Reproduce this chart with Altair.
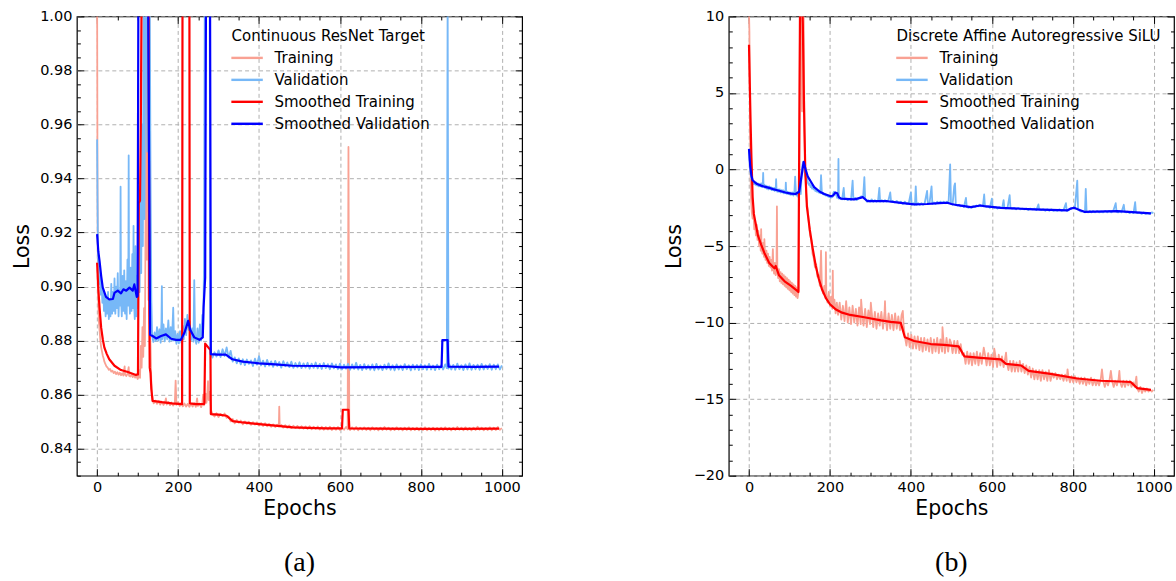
import altair as alt
import pandas as pd

SERIES = ["Training", "Validation", "Smoothed Training", "Smoothed Validation"]
COLORS = ["#f9a193", "#77b8f7", "#ff0000", "#0000ff"]
WIDTHS = [1.8, 1.8, 2.2, 2.2]

# ---------------- panel (a): Continuous ResNet Target ----------------
A_TRAIN = [
    (0, 1.01), (1, 0.935), (2, 0.905), (3, 0.893), (4, 0.888), (6, 0.884), (8, 0.880), (10, 0.8775),
    (12, 0.876), (14, 0.8745), (16, 0.8735), (18, 0.8722), (20, 0.8715), (23, 0.8705), (26, 0.8700),
    (29, 0.8692), (32, 0.8695), (35, 0.8685), (38, 0.8689), (41, 0.8680), (44, 0.8685), (47, 0.8676),
    (50, 0.8683), (53, 0.8674), (56, 0.8681), (59, 0.8672), (62, 0.8679), (65, 0.8671), (68, 0.8705),
    (69, 0.8675), (72, 0.8669), (75, 0.8676), (78, 0.8702), (79, 0.8670), (82, 0.8667), (85, 0.8675),
    (88, 0.8665), (91, 0.8673), (94, 0.8663), (97, 0.8671), (100, 0.8658), (102, 0.8664), (104, 0.8690),
    (106, 0.8662), (108, 0.8780), (110, 0.8700), (112, 0.8850), (114, 0.8740), (116, 0.8920), (118, 0.8780),
    (120, 0.9300), (121, 1.01), (123, 0.9100), (125, 1.01), (127, 0.8950), (129, 1.01), (130, 0.8850),
    (132, 0.8780), (134, 0.8640), (136, 0.8600), (138, 0.8575),
    (140, 0.8568), (144, 0.8578), (148, 0.8566), (152, 0.8576), (156, 0.8563), (160, 0.8574), (164, 0.8562),
    (168, 0.8572), (170, 0.8586), (172, 0.8563), (176, 0.8573), (180, 0.8561), (184, 0.8571), (188, 0.8560),
    (192, 0.8570), (194, 0.8652), (196, 0.8562), (200, 0.8572), (204, 0.8558), (208, 0.8569), (212, 0.8557),
    (216, 0.8567), (220, 0.8556), (224, 0.8566), (228, 0.8555), (232, 0.8566), (236, 0.8556), (240, 0.8568),
    (244, 0.8555), (247, 0.8586), (249, 0.8558), (253, 0.8567), (257, 0.8554), (260, 0.8566), (262, 0.8600),
    (264, 0.8560), (266, 0.8578), (268, 0.8604), (270, 0.8570), (272, 0.8590), (274, 0.8650), (276, 0.8580),
    (278, 0.8610), (280, 0.8575), (282, 0.8540),
    (285, 0.8528), (290, 0.8519), (295, 0.8531), (300, 0.8517), (305, 0.8529), (310, 0.8521), (315, 0.8530),
    (320, 0.8514), (325, 0.8519), (330, 0.8501), (335, 0.8510), (340, 0.8494), (345, 0.8506), (350, 0.8496),
    (355, 0.8504), (360, 0.8490), (365, 0.8501), (370, 0.8492), (375, 0.8500), (380, 0.8488), (385, 0.8498),
    (390, 0.8489), (395, 0.8497), (400, 0.8486), (405, 0.8495), (410, 0.8484), (415, 0.8494), (420, 0.8483),
    (425, 0.8492), (430, 0.8481), (435, 0.8490), (440, 0.8480), (445, 0.8489), (449, 0.8482), (450, 0.8556),
    (451, 0.8484), (455, 0.8488), (460, 0.8478), (465, 0.8487), (470, 0.8477), (475, 0.8486), (480, 0.8476),
    (485, 0.8485), (490, 0.8476), (495, 0.8484), (500, 0.8475), (505, 0.8483), (510, 0.8474), (515, 0.8482),
    (520, 0.8473), (525, 0.8483), (530, 0.8472), (535, 0.8481), (540, 0.8473), (545, 0.8482), (550, 0.8471),
    (555, 0.8481), (560, 0.8470), (565, 0.8480), (570, 0.8471), (575, 0.8481), (580, 0.8469), (585, 0.8479),
    (590, 0.8470), (595, 0.8480), (600, 0.8469), (605, 0.8478), (610, 0.8470), (615, 0.8480), (619, 0.8472),
    (621, 0.9517), (623, 0.8474),
    (625, 0.8469), (630, 0.8479), (635, 0.8470), (640, 0.8480), (645, 0.8468), (650, 0.8478), (655, 0.8470),
    (660, 0.8479), (665, 0.8469), (670, 0.8478), (675, 0.8468), (680, 0.8479), (685, 0.8470), (690, 0.8477),
    (695, 0.8468), (700, 0.8478), (705, 0.8469), (710, 0.8480), (715, 0.8470), (720, 0.8478), (725, 0.8468),
    (730, 0.8477), (735, 0.8469), (740, 0.8479), (745, 0.8470), (750, 0.8477), (755, 0.8468), (760, 0.8478),
    (765, 0.8469), (770, 0.8479), (775, 0.8468), (780, 0.8477), (785, 0.8469), (790, 0.8478), (795, 0.8468),
    (800, 0.8477), (805, 0.8469), (810, 0.8479), (815, 0.8468), (820, 0.8477), (825, 0.8469), (830, 0.8478),
    (835, 0.8467), (840, 0.8477), (845, 0.8468), (850, 0.8478), (855, 0.8468), (860, 0.8479), (865, 0.8469),
    (870, 0.8477), (875, 0.8468), (880, 0.8478), (885, 0.8469), (890, 0.8480), (895, 0.8470), (900, 0.8478),
    (905, 0.8468), (910, 0.8479), (915, 0.8469), (920, 0.8477), (925, 0.8468), (930, 0.8478), (935, 0.8469),
    (940, 0.8481), (945, 0.8470), (950, 0.8478), (955, 0.8468), (960, 0.8477), (965, 0.8469), (970, 0.8479),
    (975, 0.8468), (980, 0.8478), (985, 0.8469), (990, 0.8480), (995, 0.8470), (1000, 0.8476),
]

A_VAL = [
    (0, 0.9545), (1, 0.932), (2, 0.916), (3, 0.906), (4, 0.910), (5, 0.901), (7, 0.904), (9, 0.897),
    (11, 0.902), (13, 0.894), (15, 0.899), (17, 0.891), (19, 0.897), (21, 0.889), (23, 0.896), (25, 0.890),
    (27, 0.898), (29, 0.888), (31, 0.895), (33, 0.889), (35, 0.901), (37, 0.890), (39, 0.898), (41, 0.891),
    (43, 0.903), (45, 0.890), (47, 0.900), (49, 0.892), (51, 0.905), (53, 0.889), (55, 0.899), (57, 0.893),
    (58, 0.937), (59, 0.896), (61, 0.889), (63, 0.904), (65, 0.891), (67, 0.906), (69, 0.890), (71, 0.902),
    (73, 0.888), (75, 0.910), (77, 0.893), (78, 0.9486), (79, 0.899), (81, 0.890), (83, 0.907), (85, 0.891),
    (87, 0.912), (89, 0.892), (90, 0.9225), (91, 0.895), (93, 0.888), (95, 0.915), (97, 0.889), (99, 0.904),
    (101, 0.892), (103, 0.920), (105, 0.898), (107, 0.935), (109, 0.905), (111, 0.960), (113, 0.915),
    (115, 1.01), (117, 0.925), (119, 1.01), (122, 1.01), (124, 0.950), (126, 1.01), (130, 1.01), (132, 0.940),
    (134, 0.895), (136, 0.8815),
    (139, 0.8795), (142, 0.8830), (145, 0.8798), (148, 0.8850), (151, 0.8800), (154, 0.8842), (157, 0.8792),
    (159, 0.8870), (160, 0.9002), (161, 0.8805), (164, 0.8860), (167, 0.8797), (170, 0.8845), (173, 0.8805),
    (176, 0.8875), (179, 0.8796), (182, 0.8850), (185, 0.8800), (188, 0.8922), (190, 0.8800), (193, 0.8835),
    (196, 0.8788), (199, 0.8825), (202, 0.8790), (205, 0.8835), (208, 0.8792), (211, 0.8855), (214, 0.8805),
    (217, 0.8880), (220, 0.8820), (223, 0.8895), (226, 0.8840), (229, 0.8870), (232, 0.8802), (235, 0.8845),
    (238, 0.8796), (240, 0.9024), (242, 0.8810), (245, 0.8788), (248, 0.8845), (251, 0.8792), (254, 0.8860),
    (257, 0.8800), (260, 0.8895), (262, 0.8830), (264, 0.9070), (266, 1.01), (278, 1.01),
    (280, 0.8758), (285, 0.8737), (290, 0.8757), (295, 0.8741), (300, 0.8764), (305, 0.8739), (310, 0.8768),
    (315, 0.8743), (320, 0.8775), (325, 0.8737), (330, 0.8762), (335, 0.8722), (340, 0.8738), (345, 0.8716),
    (350, 0.8734), (355, 0.8712), (360, 0.8731), (365, 0.8709), (370, 0.8730), (375, 0.8714), (380, 0.8727),
    (385, 0.8706), (390, 0.8733), (395, 0.8711), (400, 0.8742), (405, 0.8708), (410, 0.8726), (415, 0.8704),
    (420, 0.8729), (425, 0.8707), (430, 0.8723), (435, 0.8703), (440, 0.8725), (445, 0.8706), (450, 0.8721),
    (455, 0.8700), (460, 0.8724), (465, 0.8705), (470, 0.8719), (475, 0.8702), (480, 0.8722), (485, 0.8699),
    (490, 0.8717), (495, 0.8701), (500, 0.8720), (505, 0.8698), (510, 0.8716), (515, 0.8700), (520, 0.8718),
    (525, 0.8696), (530, 0.8715), (535, 0.8699), (540, 0.8719), (545, 0.8697), (550, 0.8714), (555, 0.8695),
    (560, 0.8717), (565, 0.8698), (570, 0.8713), (575, 0.8694), (580, 0.8716), (585, 0.8697), (590, 0.8712),
    (595, 0.8694), (600, 0.8715), (605, 0.8693), (610, 0.8711), (615, 0.8696), (620, 0.8714), (625, 0.8692),
    (630, 0.8712), (635, 0.8695), (640, 0.8718), (645, 0.8693), (650, 0.8710), (655, 0.8691), (660, 0.8713),
    (665, 0.8694), (670, 0.8709), (675, 0.8692), (680, 0.8712), (685, 0.8690), (690, 0.8714), (695, 0.8693),
    (700, 0.8708), (705, 0.8691), (710, 0.8711), (715, 0.8694), (720, 0.8716), (725, 0.8692), (730, 0.8709),
    (735, 0.8690), (740, 0.8712), (745, 0.8693), (750, 0.8708), (755, 0.8691), (760, 0.8713), (765, 0.8694),
    (770, 0.8709), (775, 0.8690), (780, 0.8711), (785, 0.8693), (790, 0.8710), (795, 0.8691), (800, 0.8712),
    (805, 0.8694), (810, 0.8709), (815, 0.8692), (820, 0.8714), (825, 0.8693), (830, 0.8708), (835, 0.8691),
    (840, 0.8711), (845, 0.8694), (850, 0.8709), (855, 0.8693), (860, 0.8712), (864, 0.8698), (866, 1.01),
    (868, 0.8696), (870, 0.8713), (875, 0.8693), (880, 0.8710), (885, 0.8692), (890, 0.8715), (895, 0.8694),
    (900, 0.8709), (905, 0.8691), (910, 0.8712), (915, 0.8693), (920, 0.8716), (925, 0.8692), (930, 0.8710),
    (935, 0.8694), (940, 0.8711), (945, 0.8692), (950, 0.8714), (955, 0.8693), (960, 0.8709), (965, 0.8695),
    (970, 0.8713), (975, 0.8692), (980, 0.8711), (985, 0.8694), (990, 0.8712), (995, 0.8693), (1000, 0.8708),
]

A_TRAIN_SMOOTH = [
    (0, 0.9088), (3, 0.899), (6, 0.8922), (10, 0.8848), (14, 0.8805), (18, 0.8774), (24, 0.8750),
    (30, 0.8731), (43, 0.8707), (59, 0.8691), (76, 0.8684), (96, 0.8673), (101, 0.8675), (103, 0.9310),
    (106, 0.9318), (108, 0.9600), (110, 1.01), (127, 1.01), (129, 0.8900), (130, 0.8700), (132, 0.8680),
    (134, 0.8620), (137, 0.8577), (160, 0.8572), (185, 0.8568), (210, 0.8565), (211, 1.01), (228, 1.01),
    (229, 0.8568), (245, 0.8565), (265, 0.8566), (267, 0.8789), (275, 0.8774), (280, 0.8765), (281, 0.8528),
    (300, 0.8526), (320, 0.8522), (335, 0.8502), (360, 0.8497), (400, 0.8491), (440, 0.8485), (483, 0.8479),
    (520, 0.8477), (565, 0.8475), (605, 0.8475), (607, 0.8544), (621, 0.8544), (623, 0.8475), (700, 0.8474),
    (800, 0.8473), (900, 0.8473), (993, 0.8474),
]

A_VAL_SMOOTH = [
    (0, 0.9194), (3, 0.9130), (6, 0.9095), (10, 0.9040), (14, 0.8996), (22, 0.8962), (30, 0.8953),
    (39, 0.8954), (43, 0.8977), (51, 0.8985), (59, 0.8975), (65, 0.8990), (72, 0.8985), (80, 0.8996),
    (88, 0.8985), (92, 0.9008), (98, 0.8962), (100, 0.8965), (102, 1.01), (126, 1.01), (131, 0.8822),
    (137, 0.8817), (146, 0.8808), (158, 0.8817), (170, 0.8823), (183, 0.8807), (195, 0.8803), (207, 0.8803),
    (216, 0.8830), (225, 0.8873), (230, 0.8840), (240, 0.8812), (253, 0.8803), (261, 0.8812), (263, 0.8922),
    (267, 0.9033), (269, 1.01), (279, 1.01), (281, 0.8750), (298, 0.8748), (318, 0.8748), (334, 0.8731),
    (360, 0.8722), (400, 0.8716), (440, 0.8712), (483, 0.8707), (565, 0.8706), (602, 0.8701), (700, 0.8702),
    (800, 0.8703), (851, 0.8703), (853, 0.8802), (866, 0.8802), (868, 0.8704), (930, 0.8703), (993, 0.8704),
]

# ---------------- panel (b): Discrete Affine Autoregressive SiLU ----------------
B_TRAIN = [
    (0, 10.3), (1, 9.0), (2, 5.0), (3, 1.5), (4, -0.5), (5, -1.8), (7, -2.8), (9, -3.2), (11, -2.7),
    (13, -3.9), (15, -3.3), (17, -4.3), (19, -3.6), (21, -4.6), (23, -4.0), (25, -5.0), (27, -4.3),
    (29, -5.3), (30, -3.9), (31, -5.0), (33, -5.5), (35, -4.8), (37, -5.7), (38, -4.55), (39, -5.2),
    (41, -5.9), (43, -5.3), (45, -6.1), (47, -5.5), (49, -6.3), (51, -5.7), (53, -6.4), (55, -5.9),
    (57, -6.6), (59, -5.2), (60, -6.3), (62, -6.8), (64, -6.1), (66, -6.9), (68, -6.3), (69, -2.4),
    (70, -6.6), (72, -7.1), (74, -6.5), (76, -7.3), (78, -6.7), (80, -7.4), (82, -6.8), (84, -7.5),
    (86, -6.9), (88, -7.6), (90, -7.0), (92, -7.7), (94, -7.1), (96, -7.8), (98, -7.2), (100, -7.9),
    (102, -7.3), (104, -8.0), (106, -7.4), (108, -8.1), (110, -7.5), (112, -8.2), (114, -7.6), (116, -8.3),
    (118, -7.7), (120, -8.4), (122, -8.0), (123, -7.9), (126, 10.3), (130, 10.3), (131, 3.8), (133, 10.3),
    (135, 10.3), (137, 2.5), (139, 0.0), (141, -1.5), (143, -2.2), (145, -2.6), (148, -3.5), (151, -4.3),
    (154, -4.6), (157, -5.5), (160, -5.8), (163, -6.4), (166, -6.2), (169, -7.0), (172, -6.9), (175, -7.6),
    (178, -5.3), (180, -7.7), (183, -8.1), (186, -7.6), (189, -8.4), (190, -5.4), (191, -8.2), (194, -8.7),
    (197, -8.0), (200, -8.9), (203, -8.3), (206, -9.1), (207, -6.6), (208, -9.0), (211, -8.5), (214, -9.4),
    (217, -8.7), (220, -9.5),
    (224, -8.7), (228, -9.8), (232, -8.9), (236, -9.9), (240, -8.6), (244, -10.0), (248, -9.0), (252, -10.1),
    (256, -8.9), (260, -10.0), (264, -9.1), (268, -10.2), (272, -9.0), (276, -10.1), (277, -8.5), (279, -9.2),
    (283, -10.2), (287, -9.1), (291, -10.3), (295, -9.2), (299, -10.1), (301, -8.7), (303, -9.3), (307, -10.3),
    (311, -9.3), (315, -10.4), (319, -9.4), (323, -10.2), (327, -9.3), (331, -10.4), (335, -9.3), (336, -8.6),
    (337, -9.5), (341, -10.5), (345, -9.4), (349, -10.4), (353, -9.5), (357, -10.5), (361, -9.4), (365, -10.4),
    (369, -9.6), (373, -10.5), (377, -9.5), (380, -9.24), (382, -10.2), (385, -10.9), (389, -11.5), (393, -10.7),
    (397, -11.6), (401, -10.8), (405, -11.7), (409, -10.9), (413, -11.7), (417, -10.9), (421, -11.8),
    (425, -11.0), (429, -11.9), (433, -11.0), (437, -11.8), (441, -11.1), (445, -11.9), (449, -11.0),
    (453, -12.0), (457, -11.1), (461, -11.9), (465, -11.0), (469, -12.0), (473, -11.1), (477, -11.9),
    (478, -10.3), (480, -11.0), (484, -12.0), (488, -11.0), (492, -11.9), (496, -11.1), (499, -11.3),
    (503, -12.0), (507, -11.2), (511, -12.0), (515, -11.2), (519, -12.0), (523, -11.4), (527, -12.1),
    (531, -12.0), (535, -12.7), (539, -11.9), (543, -12.7), (547, -12.0), (551, -12.8), (555, -12.0),
    (559, -12.7), (563, -11.9), (567, -12.8), (571, -12.0), (575, -12.7), (580, -11.64), (583, -12.1),
    (587, -12.8), (591, -12.0), (595, -12.8), (599, -12.1), (603, -12.9), (606, -11.7), (609, -12.2),
    (613, -12.9), (617, -12.1), (621, -12.8), (625, -12.2), (629, -12.9), (633, -12.3), (635, -11.96),
    (637, -12.6), (641, -13.1), (645, -12.5), (649, -13.2), (653, -12.5), (657, -13.2), (661, -12.6),
    (665, -13.2), (669, -12.5), (673, -13.2), (677, -12.7), (681, -13.3), (685, -12.8), (689, -13.4),
    (693, -12.9), (697, -13.6), (701, -13.0), (705, -13.7), (709, -13.1), (713, -13.7), (717, -13.1),
    (721, -13.8), (725, -13.1), (729, -13.7), (733, -13.2), (737, -13.8), (741, -13.1), (745, -13.8),
    (749, -13.3), (753, -13.6), (757, -13.3), (761, -13.7), (765, -13.4), (769, -13.7), (773, -13.4),
    (777, -13.8), (781, -13.4), (785, -13.8), (787, -13.05), (789, -13.5), (793, -13.9), (797, -13.5),
    (801, -13.9), (805, -13.5), (809, -13.9), (813, -13.6), (817, -14.0), (821, -13.6), (825, -14.0),
    (829, -13.6), (833, -14.1), (837, -13.7), (841, -14.0), (845, -13.6), (849, -14.1), (853, -13.7),
    (857, -14.1), (861, -13.8), (865, -14.1), (869, -13.7), (872, -13.05), (875, -13.8), (879, -14.2),
    (883, -13.8), (887, -14.1), (891, -13.7), (894, -13.16), (897, -13.8), (901, -14.2), (905, -13.8),
    (909, -14.1), (913, -13.7), (915, -13.16), (917, -13.9), (921, -14.2), (925, -13.8), (929, -14.2),
    (933, -13.8), (937, -14.1), (941, -13.8), (945, -14.2), (949, -13.9), (953, -14.2), (957, -13.53),
    (959, -14.3), (963, -14.5), (967, -14.2), (971, -14.6), (975, -14.3), (979, -14.5), (983, -14.3),
    (987, -14.5), (991, -14.4), (995, -14.5), (999, -14.4),
]

B_VAL = [
    (0, 1.35), (2, 0.3), (4, -0.3), (6, -0.6), (8, -0.8), (10, -0.75), (12, -0.95), (14, -0.8), (16, -1.0),
    (18, -0.85), (20, -1.05), (22, -0.9), (24, -1.1), (26, -0.95), (28, -1.1), (30, -0.9), (32, -1.15),
    (34, -1.0), (35, -0.22), (36, -1.1), (38, -1.0), (40, -1.2), (42, -1.05), (44, -1.25), (46, -1.1),
    (48, -1.3), (50, -1.1), (52, -1.25), (54, -1.15), (56, -1.35), (58, -1.2), (60, -1.35), (62, -1.2),
    (64, -1.4), (66, -1.25), (67, -0.63), (68, -1.3), (70, -1.45), (72, -1.3), (74, -1.45), (76, -1.3),
    (78, -1.5), (80, -1.35), (82, -1.5), (84, -1.35), (86, -1.55), (88, -1.4), (90, -1.55), (91, -0.85),
    (92, -1.45), (94, -1.6), (96, -1.45), (98, -1.6), (100, -1.5), (102, -1.65), (104, -1.5), (106, -1.65),
    (108, -1.5), (110, -1.7), (112, -1.55), (114, -0.46), (116, -1.6), (118, -1.7), (120, -1.5), (122, -1.8),
    (124, -1.4), (126, -0.5), (128, -1.6), (130, -0.2), (132, 0.3), (134, 0.5), (136, 0.2), (138, -0.3),
    (140, -0.5), (142, -0.7), (144, -0.6), (146, -0.9), (148, -1.0), (150, -0.9), (152, -1.15), (154, -1.05),
    (156, -1.25), (158, -1.15), (160, -1.3), (162, -1.2), (164, -1.4), (166, -1.3), (168, -1.45), (170, -1.35),
    (172, -1.5), (174, -1.4), (176, -1.55), (178, -0.37), (180, -1.5), (182, -1.6), (184, -1.55), (186, -1.65),
    (188, -1.6), (190, -1.7), (192, -1.65), (194, -1.75), (196, -1.7), (198, -1.8), (200, -1.75), (202, -1.85),
    (204, -1.75), (206, -1.8), (208, -1.55), (210, -1.45), (212, -1.5), (214, -1.6), (216, -1.7), (218, -1.85),
    (220, -1.8), (221, 0.69), (222, -1.9), (226, -1.85), (230, -1.95), (234, -1.2), (236, -1.95), (240, -1.9),
    (244, -2.0), (248, -1.9), (252, -2.0), (256, -0.72), (258, -1.95), (262, -1.85), (266, -2.0), (270, -1.9),
    (274, -1.8), (278, -1.75), (282, -1.8), (285, -0.5), (287, -1.9), (291, -2.1), (295, -2.0), (299, -2.1),
    (303, -1.95), (307, -2.1), (311, -2.0), (315, -2.1), (319, -2.0), (322, -1.2), (324, -2.1), (328, -2.0),
    (332, -2.1), (336, -2.0), (340, -2.1), (344, -2.05), (349, -1.5), (351, -2.1), (355, -2.05), (360, -2.15),
    (365, -2.05), (370, -2.2), (375, -2.1), (380, -2.25), (385, -2.1), (390, -2.25), (395, -2.15), (400, -1.5),
    (402, -2.3), (406, -2.2), (410, -2.3), (412, -1.1), (414, -2.3), (418, -2.2), (422, -2.3), (426, -2.2),
    (430, -2.3), (434, -2.2), (440, -1.4), (442, -2.25), (446, -2.2), (451, -1.1), (453, -2.25), (457, -2.15),
    (461, -2.25), (465, -2.1), (469, -2.2), (473, -2.1), (477, -2.2), (481, -2.1), (485, -2.2), (489, -2.1),
    (493, -2.2), (497, 0.33), (499, -2.2), (503, -2.3), (507, -1.09), (509, -0.9), (511, -2.3), (515, -2.35),
    (519, -2.3), (523, -2.4), (527, -2.35), (531, -2.45), (536, -1.85), (538, -2.45), (542, -2.5), (546, -2.45),
    (550, -2.5), (554, -2.4), (558, -2.45), (562, -2.35), (566, -2.4), (570, -2.3), (574, -2.4), (578, -2.35),
    (581, -1.63), (583, -2.4), (587, -2.45), (591, -2.4), (595, -2.5), (600, -1.9), (602, -2.45), (606, -2.5),
    (610, -2.45), (614, -2.55), (618, -2.45), (622, -2.5), (626, -2.45), (629, -2.0), (631, -2.5), (635, -2.55),
    (639, -2.45), (644, -1.68), (646, -2.5), (650, -2.55), (655, -2.5), (660, -2.6), (665, -2.5), (670, -2.6),
    (675, -2.55), (680, -2.6), (685, -2.55), (690, -2.65), (695, -2.55), (700, -2.6), (705, -2.55), (710, -2.65),
    (715, -2.28), (717, -2.6), (722, -2.65), (727, -2.6), (732, -2.7), (737, -2.6), (742, -2.7), (747, -2.6),
    (752, -2.7), (757, -2.65), (762, -2.7), (767, -2.6), (772, -2.7), (777, -2.65), (783, -2.2), (785, -2.7),
    (790, -2.65), (795, -2.55), (800, -2.5), (805, -2.55), (811, -0.72), (813, -2.6), (817, -2.7), (821, -2.75),
    (825, -2.7), (830, -2.8), (832, -1.26), (834, -2.75), (838, -2.8), (842, -2.7), (846, -2.8), (850, -2.7),
    (855, -2.8), (860, -2.7), (865, -2.8), (870, -2.75), (875, -2.8), (880, -2.7), (885, -2.8), (890, -2.7),
    (895, -2.8), (900, -2.7), (906, -2.2), (908, -2.75), (912, -2.8), (916, -2.7), (920, -2.8), (926, -2.3),
    (928, -2.75), (932, -2.8), (936, -2.75), (940, -2.85), (945, -2.75), (950, -2.85), (954, -2.13), (956, -2.8),
    (960, -2.85), (965, -2.8), (970, -2.9), (975, -2.8), (980, -2.9), (985, -2.85), (990, -2.9), (995, -2.8),
    (999, -2.85),
]

B_TRAIN_SMOOTH = [
    (0, 8.15), (2, 5.5), (4, 3.0), (6, 0.8), (9, -1.8), (12, -2.9), (17, -3.6), (22, -4.3), (30, -4.9),
    (38, -5.45), (50, -6.1), (59, -6.35), (63, -6.45), (66, -6.3), (70, -6.6), (74, -6.9), (88, -7.3),
    (104, -7.6), (120, -7.94), (122, -8.0), (126, 10.3), (132, 10.3), (133, 9.5), (136, 4.0), (139, 0.0),
    (143, -2.4), (150, -3.9), (157, -5.1), (165, -6.3), (172, -7.1), (180, -7.8), (190, -8.4), (200, -8.8),
    (215, -9.15), (230, -9.35), (250, -9.5), (285, -9.65), (326, -9.85), (350, -9.95), (375, -10.02),
    (385, -10.96), (408, -11.2), (449, -11.4), (482, -11.45), (518, -11.55), (532, -12.2), (572, -12.3),
    (622, -12.4), (635, -12.7), (672, -12.8), (691, -13.15), (745, -13.35), (811, -13.65), (869, -13.8),
    (943, -13.88), (959, -14.28), (993, -14.4),
]

B_VAL_SMOOTH = [
    (0, 1.35), (3, 0.2), (6, -0.4), (9, -0.7), (13, -0.8), (20, -0.95), (30, -1.05), (38, -1.12), (50, -1.2),
    (62, -1.3), (70, -1.35), (79, -1.42), (90, -1.5), (104, -1.57), (115, -1.6), (121, -1.5), (124, -1.45),
    (135, 0.5), (140, 0.0), (145, -0.45), (153, -0.8), (161, -1.15), (175, -1.45), (186, -1.6), (202, -1.75),
    (208, -1.7), (213, -1.5), (218, -1.55), (222, -1.8), (227, -1.9), (260, -1.95), (275, -1.85), (281, -1.8),
    (293, -2.07), (342, -2.07), (380, -2.2), (408, -2.28), (440, -2.25), (470, -2.2), (490, -2.17), (500, -2.25),
    (515, -2.33), (548, -2.46), (572, -2.35), (581, -2.39), (622, -2.5), (704, -2.6), (786, -2.67), (795, -2.55),
    (803, -2.5), (812, -2.6), (828, -2.76), (910, -2.72), (993, -2.87),
]

X_DOMAIN = [-50, 1050]
X_MAJOR = [0, 200, 400, 600, 800, 1000]
X_ALL = list(range(0, 1001, 50))
A_Y_DOMAIN = [0.83, 1.0]
A_Y_MAJOR = [0.84, 0.86, 0.88, 0.90, 0.92, 0.94, 0.96, 0.98, 1.00]
A_Y_ALL = [round(0.83 + 0.005 * i, 3) for i in range(35)]
B_Y_DOMAIN = [-20, 10]
B_Y_MAJOR = [-20, -15, -10, -5, 0, 5, 10]
B_Y_ALL = list(range(-20, 11))

W, H = 446, 460


def panel(series_lists, y_domain, y_major, y_all, major_test, y_fmt, legend_title, legend_x, caption):
    rows = []
    for name, pts in zip(SERIES, series_lists):
        for e, v in pts:
            rows.append({"epoch": e, "loss": v, "series": name})
    df = pd.DataFrame(rows)
    frame_df = pd.DataFrame({"epoch": X_DOMAIN, "loss": y_domain})
    xs = alt.Scale(domain=X_DOMAIN, nice=False, zero=False)
    ys = alt.Scale(domain=y_domain, nice=False, zero=False)
    legend = alt.Legend(
        title=legend_title, orient="none", legendX=legend_x, legendY=13,
        symbolType="M-1.75,0L1.75,0", symbolSize=324, symbolStrokeWidth=2.4,
        labelFontSize=15, titleFontSize=15, titleFontWeight="normal", titleLimit=500, labelLimit=400,
        labelFont="DejaVu Sans", titleFont="DejaVu Sans", labelColor="black", titleColor="black",
        rowPadding=3, titlePadding=3, labelOffset=17, padding=0, symbolOffset=5,
    )
    color = alt.Color("series:N", scale=alt.Scale(domain=SERIES, range=COLORS), legend=legend)
    x_main = alt.Axis(values=X_MAJOR, format="d", grid=True, ticks=False, tickSize=0, domain=False,
                      labelPadding=5, titlePadding=4)
    y_main = alt.Axis(values=y_major, format=y_fmt, grid=True, ticks=False, tickSize=0, domain=False,
                      labelPadding=5, titlePadding=6, minExtent=38, maxExtent=38)
    layers = []
    for i, name in enumerate(SERIES):
        layers.append(
            alt.Chart(df)
            .transform_filter(alt.datum.series == name)
            .mark_line(clip=True, strokeWidth=WIDTHS[i], strokeJoin="round")
            .encode(
                x=alt.X("epoch:Q", scale=xs, axis=x_main if i == 0 else None, title="Epochs"),
                y=alt.Y("loss:Q", scale=ys, axis=y_main if i == 0 else None, title="Loss"),
                color=color,
            )
        )
    tx = {"condition": {"test": "datum.value % 200 === 0", "value": 7}, "value": 3.5}
    ty = {"condition": {"test": major_test, "value": 7}, "value": 3.5}
    common = dict(grid=False, labels=False, domain=False, ticks=True, tickColor="black", tickWidth=1)
    t1 = alt.Chart(frame_df).mark_point(opacity=0, size=1).encode(
        x=alt.X("epoch:Q", scale=xs, title=None,
                axis=alt.Axis(orient="top", offset=-H, values=X_ALL, tickSize=tx, **common)),
        y=alt.Y("loss:Q", scale=ys, title=None,
                axis=alt.Axis(orient="right", offset=-W, values=y_all, tickSize=ty, **common)),
    )
    t2 = alt.Chart(frame_df).mark_point(opacity=0, size=1).encode(
        x=alt.X("epoch:Q", scale=xs, title=None,
                axis=alt.Axis(orient="bottom", offset=-H, values=X_ALL, tickSize=tx, **common)),
        y=alt.Y("loss:Q", scale=ys, title=None,
                axis=alt.Axis(orient="left", offset=-W, values=y_all, tickSize=ty, **common)),
    )
    return (
        alt.layer(*layers, t1, t2)
        .resolve_axis(x="independent", y="independent")
        .properties(
            width=W, height=H,
            title=alt.TitleParams(caption, orient="bottom", font="Liberation Serif", fontSize=28,
                                  fontWeight="normal", color="black", offset=30, anchor="middle"),
        )
    )


pa = panel([A_TRAIN, A_VAL, A_TRAIN_SMOOTH, A_VAL_SMOOTH], A_Y_DOMAIN, A_Y_MAJOR, A_Y_ALL,
           "abs(datum.value * 50 - round(datum.value * 50)) < 0.01", ".2f",
           "Continuous ResNet Target", 155, "(a)")
pb = panel([B_TRAIN, B_VAL, B_TRAIN_SMOOTH, B_VAL_SMOOTH], B_Y_DOMAIN, B_Y_MAJOR, B_Y_ALL,
           "abs(datum.value % 5) < 0.01", "d",
           "Discrete Affine Autoregressive SiLU", 168, "(b)")

chart = (
    alt.hconcat(pa, pb, spacing=140)
    .resolve_scale(color="independent")
    .resolve_legend(color="independent")
    .properties(padding={"left": 12, "top": 7, "right": 0, "bottom": 0})
    .configure(font="DejaVu Sans")
    .configure_view(stroke="black", strokeWidth=1.2)
    .configure_axis(labelFont="DejaVu Sans", labelFontSize=14.5, labelColor="black",
                    titleFont="DejaVu Sans", titleFontSize=20.5, titleFontWeight="normal", titleColor="black",
                    gridColor="#b0b0b0", gridDash=[4, 3], gridWidth=1)
)

chart.save("out.html", embed_options={"renderer": "svg", "actions": False})
